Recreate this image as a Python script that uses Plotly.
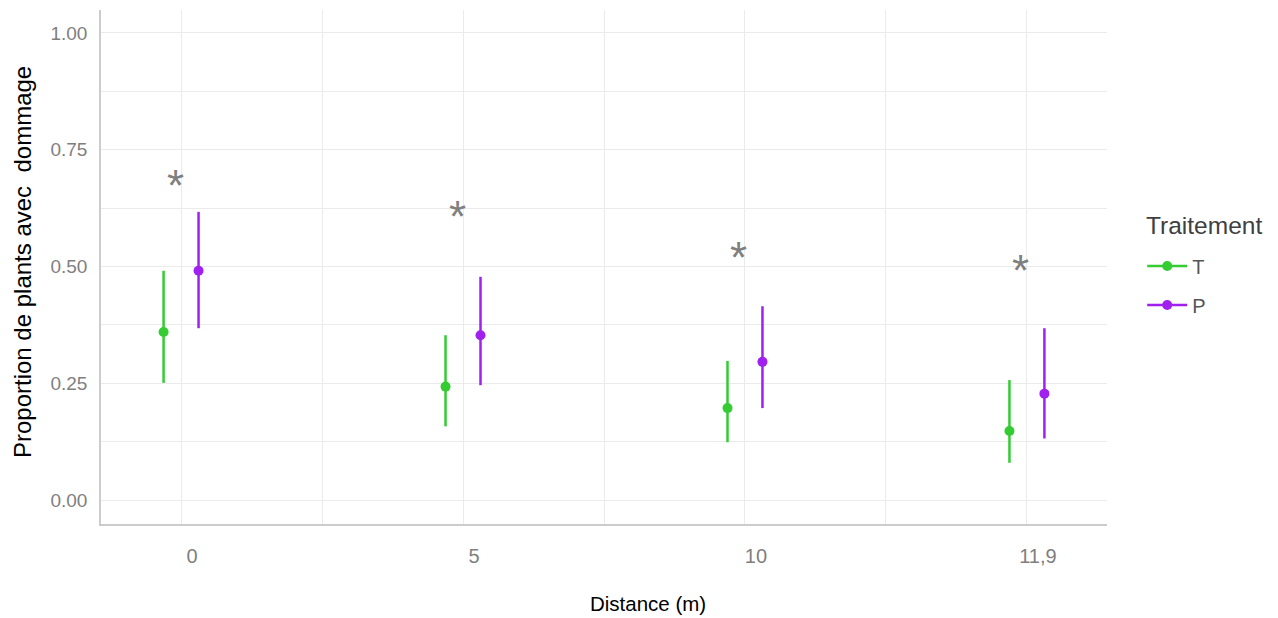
import plotly.graph_objects as go

# Distance categories along the x axis
distances = ["0", "5", "10", "11,9"]

# Proportion of damaged plants per treatment: estimate and interval bounds
t_mean = [0.360, 0.243, 0.197, 0.148]
t_low = [0.251, 0.158, 0.124, 0.080]
t_high = [0.491, 0.353, 0.298, 0.257]

p_mean = [0.491, 0.353, 0.296, 0.228]
p_low = [0.368, 0.246, 0.197, 0.132]
p_high = [0.617, 0.478, 0.415, 0.368]

# Height of the significance marks above each distance group
star_y = [0.685, 0.617, 0.531, 0.503]

y_ticks = [0.0, 0.25, 0.50, 0.75, 1.00]

GREEN = "#33CC33"
PURPLE = "#A020F0"
DODGE = 0.062
FONT = "Liberation Sans, Arial"

pos = list(range(1, len(distances) + 1))

fig = go.Figure()


def add_series(name, mean, low, high, color, shift):
    # points with vertical interval bars, dodged around the category centre
    fig.add_trace(go.Scatter(
        x=[p + shift for p in pos],
        y=mean,
        name=name,
        mode="markers",
        marker=dict(color=color, size=10),
        error_y=dict(
            type="data",
            symmetric=False,
            array=[h - m for h, m in zip(high, mean)],
            arrayminus=[m - l for m, l in zip(mean, low)],
            color=color,
            thickness=2.5,
            width=0,
        ),
        showlegend=False,
    ))
    # legend key: short line through a dot
    fig.add_trace(go.Scatter(
        x=[None], y=[None], name=name,
        mode="lines+markers",
        line=dict(color=color, width=2.5),
        marker=dict(color=color, size=10),
        legendgroup=name,
    ))


add_series("T", t_mean, t_low, t_high, GREEN, -DODGE)
add_series("P", p_mean, p_low, p_high, PURPLE, DODGE)

for p, sy in zip(pos, star_y):
    fig.add_annotation(
        x=p, y=sy, text="*", showarrow=False,
        xshift=-6, yshift=-5,
        font=dict(family=FONT, size=44, color="#7F7F7F"),
    )

# axis titles and legend heading
fig.add_annotation(
    xref="paper", yref="paper", x=0.5437, y=-0.1537,
    text="Distance (m)", showarrow=False, xanchor="center", yanchor="middle",
    font=dict(family=FONT, size=20.5, color="black"),
)
fig.add_annotation(
    xref="paper", yref="paper", x=-0.0785, y=0.5097,
    text="Proportion de plants avec \u00a0dommage", showarrow=False,
    textangle=-90, xanchor="center", yanchor="middle",
    font=dict(family=FONT, size=24, color="black"),
)
fig.add_annotation(
    xref="paper", yref="paper", x=1.0368, y=0.5817,
    text="Traitement", showarrow=False, xanchor="left", yanchor="middle",
    font=dict(family=FONT, size=24.5, color="#404040"),
)

GRID = "#EBEBEB"
fig.update_layout(
    width=1278, height=618,
    paper_bgcolor="white", plot_bgcolor="white",
    margin=dict(l=101, r=171, t=10, b=94),
    font=dict(family=FONT, color="#7F7F7F"),
    xaxis=dict(
        range=[0.716, 4.284],
        tickmode="array", tickvals=pos, ticktext=distances,
        tickfont=dict(size=20, color="#7F7F7F"),
        ticks="", ticklabelstandoff=13, ticklabelshift=11,
        showgrid=True, gridcolor=GRID, gridwidth=1.3,
        minor=dict(tickmode="array", tickvals=[p + 0.5 for p in pos[:-1]],
                   showgrid=True, gridcolor=GRID, gridwidth=1.0),
        showline=True, linecolor="#CCCCCC", linewidth=1.5,
        zeroline=False,
    ),
    yaxis=dict(
        range=[-0.051, 1.049],
        tickmode="array", tickvals=y_ticks,
        ticktext=[f"{v:.2f}" for v in y_ticks],
        tickfont=dict(size=19, color="#7F7F7F"),
        ticks="", ticklabelstandoff=8,
        showgrid=True, gridcolor=GRID, gridwidth=1.3,
        minor=dict(tickmode="array",
                   tickvals=[0.125, 0.375, 0.625, 0.875],
                   showgrid=True, gridcolor=GRID, gridwidth=1.0),
        showline=True, linecolor="#CCCCCC", linewidth=1.5,
        zeroline=False,
    ),
    legend=dict(
        x=1.035, y=0.540, xanchor="left", yanchor="top",
        font=dict(size=20, color="#555555"),
        itemwidth=40, tracegroupgap=10,
    ),
    showlegend=True,
)

fig.write_html("out.html")
